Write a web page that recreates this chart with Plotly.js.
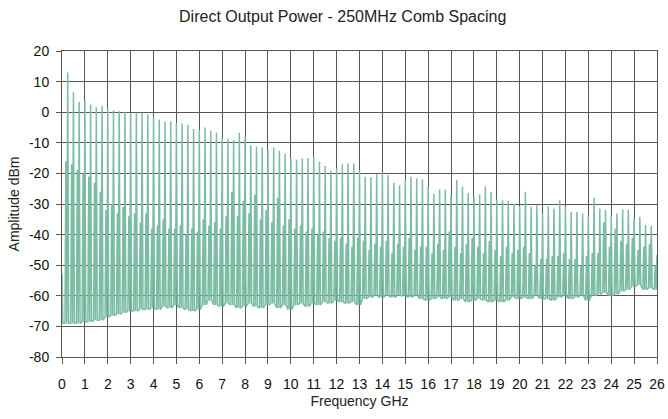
<!DOCTYPE html>
<html>
<head>
<meta charset="utf-8">
<script src="https://cdn.plot.ly/plotly-3.0.1.min.js"></script>
<style>html,body{margin:0;padding:0;background:#fff;}#chart{width:668px;height:419px;}</style>
</head>
<body>
<div id="chart"></div>
<script>
// Comb line frequencies (GHz)
const freqGHz = [0,0.25,0.5,0.75,1,1.25,1.5,1.75,2,2.25,2.5,2.75,3,3.25,3.5,3.75,4,4.25,4.5,4.75,5,5.25,5.5,5.75,6,6.25,6.5,6.75,7,7.25,7.5,7.75,8,8.25,8.5,8.75,9,9.25,9.5,9.75,10,10.25,10.5,10.75,11,11.25,11.5,11.75,12,12.25,12.5,12.75,13,13.25,13.5,13.75,14,14.25,14.5,14.75,15,15.25,15.5,15.75,16,16.25,16.5,16.75,17,17.25,17.5,17.75,18,18.25,18.5,18.75,19,19.25,19.5,19.75,20,20.25,20.5,20.75,21,21.25,21.5,21.75,22,22.25,22.5,22.75,23,23.25,23.5,23.75,24,24.25,24.5,24.75,25,25.25,25.5,25.75,26];
// Peak amplitude of each comb line (dBm)
const peakDBm = [-53,13,6.5,3.4,3.9,2.5,1.6,2.0,1.3,0.6,0.3,0.1,-0.2,-0.2,-0.2,-0.7,-1.5,-2.4,-3.0,-3.0,-3.5,-3.8,-4.2,-5.5,-5.8,-5.0,-6.1,-6.7,-8.3,-8.7,-9.1,-6.7,-8.0,-10.8,-11.3,-11.5,-12.4,-11.5,-12.6,-13.5,-15.1,-15.5,-15.1,-15.0,-14.6,-16.2,-17.6,-19.1,-18.4,-17.0,-16.8,-16.8,-19.0,-21.1,-21.3,-20.3,-19.8,-20.6,-23.1,-23.9,-22.2,-21.1,-21.7,-22.0,-24.4,-26.6,-25.3,-25.3,-27.1,-22.2,-24.4,-26.4,-27.7,-26.8,-24.2,-26.0,-28.5,-28.8,-29.0,-30.0,-30.7,-26.0,-30.9,-30.4,-33.1,-30.7,-31.5,-28.8,-30.7,-32.6,-32.6,-33.1,-33.7,-27.9,-31.5,-32.0,-33.7,-33.1,-31.8,-32.0,-34.7,-34.2,-36.9,-37.2,-46.7];
// Secondary (side) spike next to each comb line (dBm)
const sideDBm = [-69,-16,-17,-19,-20,-21,-23,-26,-32,-30,-33,-31,-34,-33,-36,-33,-38,-37,-35,-38,-38,-37,-40,-38,-39,-35,-37,-36,-38,-34,-26,-34,-29,-33,-27,-35,-32,-36,-28,-37,-35,-38,-37,-39,-38,-40,-39,-41,-42,-41,-43,-44,-41,-42,-45,-43,-44,-42,-46,-43,-44,-41,-45,-44,-44,-46,-43,-45,-39,-44,-46,-43,-41,-44,-46,-42,-45,-47,-44,-46,-45,-44,-46,-50,-48,-48,-47,-47,-46,-48,-48,-50,-47,-46,-46,-36,-44,-38,-42,-43,-41,-45,-44,-43,-50];
// Noise floor under each comb line (dBm)
const floorDBm = [-69,-69,-69,-69,-68.5,-68.5,-68,-68,-67,-66.5,-66,-65.5,-65,-65,-64.5,-64.5,-64,-64.5,-63.5,-64,-63,-64,-64.5,-65,-64.5,-63,-61.5,-63,-63.5,-62.5,-63,-64,-63.5,-62.5,-63.5,-64,-63,-62.5,-64,-63,-64.5,-63,-62.5,-63.5,-62.5,-63,-62,-62.5,-61.5,-62,-62.5,-62,-63,-61,-60.5,-60,-60.5,-60,-60.5,-60,-60,-60.5,-60,-61,-61.5,-61,-60.5,-61,-60.5,-61.5,-61,-62,-61.5,-61,-61.5,-62,-61.5,-62,-61.5,-60.5,-61,-60.5,-61,-60,-61,-61,-61.5,-60.5,-60,-61,-60.5,-60,-61.5,-60,-59.5,-59,-60,-59.5,-58.5,-58,-57,-56.5,-58,-57.5,-58];
const xTickLabels = ['0','1','2','3','4','5','6','7','8','9','10','11','12','13','14','15','16','17','18','19','20','21','22','23','24','25','26'];
const yTickLabels = ['-80','-70','-60','-50','-40','-30','-20','-10','0','10','20'];

// Build the spectrum trace path from the arrays
const xs = [], ys = [];
for (let k = 0; k < freqGHz.length; k++) {
  const f = freqGHz[k];
  xs.push(f - 0.12); ys.push(floorDBm[k]);
  xs.push(f - 0.08); ys.push(sideDBm[k]);
  xs.push(f - 0.04); ys.push(floorDBm[k]);
  xs.push(f);        ys.push(peakDBm[k]);
  xs.push(f + 0.04); ys.push(floorDBm[k]);
}

const grid = '#575757';
const font = 'Liberation Sans, Arial, sans-serif';

Plotly.newPlot('chart', [{
  type: 'scatter', mode: 'lines', x: xs, y: ys,
  line: {color: '#7bbca2', width: 1.5},
  hoverinfo: 'skip'
}], {
  width: 668, height: 419,
  margin: {l: 62, r: 11, t: 51, b: 62},
  paper_bgcolor: '#ffffff', plot_bgcolor: '#ffffff',
  showlegend: false, hovermode: false,
  font: {family: font, size: 13, color: '#222'},
  title: {text: 'Direct Output Power - 250MHz Comb Spacing', font: {family: font, size: 16, color: '#222'},
          x: 0.513, xanchor: 'center', y: 0.962, yanchor: 'middle'},
  xaxis: {
    range: [0, 26], tickmode: 'array',
    tickvals: xTickLabels.map(Number), ticktext: xTickLabels,
    showgrid: true, gridcolor: grid, gridwidth: 1,
    showline: true, linecolor: grid, linewidth: 1, mirror: true,
    ticks: 'outside', ticklen: 6, tickcolor: grid, tickwidth: 1,
    ticklabelstandoff: 8,
    zeroline: false,
    tickfont: {family: font, size: 14, color: '#111'},
    title: {text: 'Frequency GHz', font: {family: font, size: 14, color: '#222'}, standoff: 5}
  },
  yaxis: {
    range: [-80, 20], tickmode: 'array',
    tickvals: yTickLabels.map(Number), ticktext: yTickLabels,
    showgrid: true, gridcolor: grid, gridwidth: 1,
    showline: true, linecolor: grid, linewidth: 1, mirror: true,
    ticks: 'outside', ticklen: 5, tickcolor: grid, tickwidth: 1,
    ticklabelstandoff: 4,
    zeroline: false,
    tickfont: {family: font, size: 14, color: '#111'},
    title: {text: 'Amplitude dBm', font: {family: font, size: 14, color: '#222'}, standoff: 6}
  }
}, {displayModeBar: false, staticPlot: true});
</script>
</body>
</html>
